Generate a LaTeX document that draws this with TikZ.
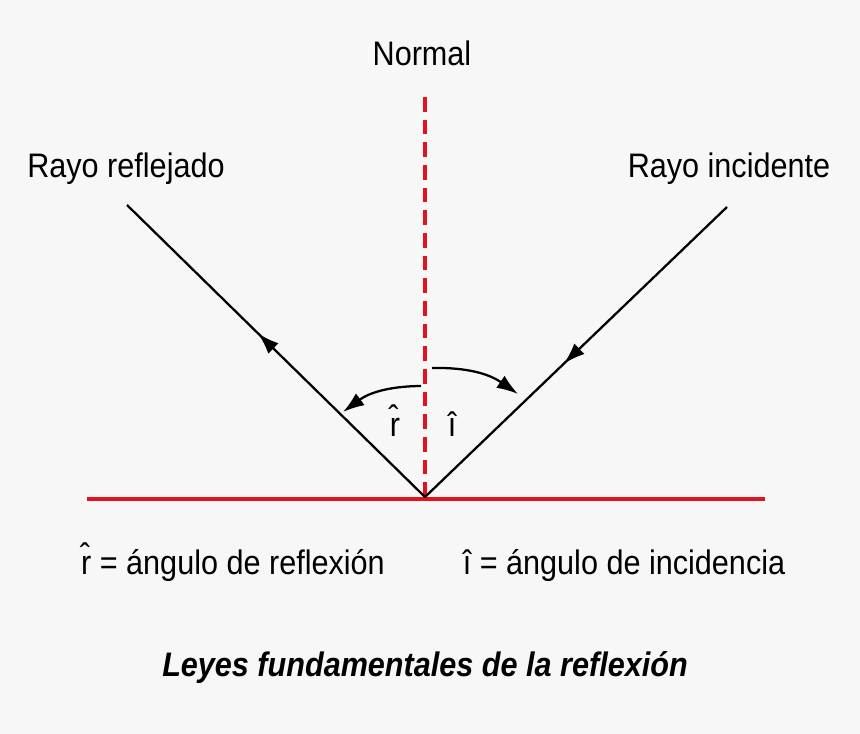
\documentclass[tikz,border=0pt]{standalone}
\usepackage{fontspec}
\setmainfont[FakeStretch=0.9]{Liberation Sans}
\usetikzlibrary{arrows.meta,decorations.markings}
\definecolor{rojo}{HTML}{E3121E}
\definecolor{fondo}{HTML}{F7F7F7}
\begin{document}
\begin{tikzpicture}[x=0.75pt,y=-0.75pt,
  lbl/.style={font=\fontsize{25.5}{30}\selectfont, inner sep=0pt, anchor=base},
  ray/.style={line width=1.7pt, black},
  mid/.style={postaction={decorate},decoration={markings,mark=at position #1 with {\arrow{Latex[length=16pt,width=11pt]}}}},
  arc/.style={line width=1.7pt, -{Latex[length=16pt,width=11pt]}}]
\fill[fondo] (0,0) rectangle (860,734);
\useasboundingbox (0,0) rectangle (860,734);
\coordinate (O) at (425,497);
\coordinate (I) at (727,207);
\coordinate (R) at (127,205);
\coordinate (N) at (425,95);
\coordinate (SL) at (87,499);
\coordinate (SR) at (765,499);
\draw[rojo, line width=3.2pt] (SL) -- (SR);
\draw[rojo, line width=3.2pt, dash pattern=on 11pt off 6pt] (O) -- (N);
\draw[ray, mid=0.54] (I) -- (O);
\draw[ray, mid=0.56] (O) -- (R);
\coordinate (a1) at (421,386);
\coordinate (a2) at (343,412);
\coordinate (b1) at (432,368);
\coordinate (b2) at (518,394);
\draw[arc] (a1) to[bend right=18] (a2);
\draw[arc] (b1) to[bend left=18] (b2);
\node[lbl] (tn) at (422,66) {Normal};
\node[lbl] (tr) at (126,178) {Rayo reflejado};
\node[lbl] (ti) at (729,178) {Rayo incidente};
\node[lbl] (hr) at (395,436) {r̂};
\node[lbl] (hi) at (452,436) {î};
\node[lbl] (br) at (233,574) {r̂ = ángulo de reflexión};
\node[lbl] (bi) at (624,574) {î = ángulo de incidencia};
\node[lbl, font=\fontsize{25.5}{30}\selectfont\bfseries\itshape] (tt) at (425,676) {Leyes fundamentales de la reflexión};
\end{tikzpicture}
\end{document}
